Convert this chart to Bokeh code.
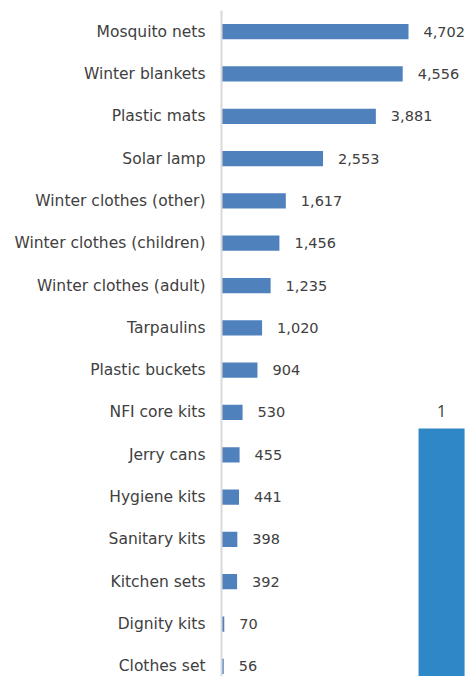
from bokeh.plotting import figure
from bokeh.models import Range1d, FixedTicker, ColumnDataSource
from bokeh.core.properties import value
from bokeh.embed import file_html
from bokeh.resources import INLINE

categories = ["Mosquito nets", "Winter blankets", "Plastic mats", "Solar lamp",
              "Winter clothes (other)", "Winter clothes (children)",
              "Winter clothes (adult)", "Tarpaulins", "Plastic buckets",
              "NFI core kits", "Jerry cans", "Hygiene kits", "Sanitary kits",
              "Kitchen sets", "Dignity kits", "Clothes set"]
values = [4702, 4556, 3881, 2553, 1617, 1456, 1235, 1020, 904, 530, 455, 441,
          398, 392, 70, 56]
labels = [f"{v:,}" for v in values]

second_categories = ["Other"]
second_values = [1]

FONT = "DejaVu Sans"
TXT = "#404040"

pos = list(range(len(categories)))
src = ColumnDataSource(dict(y=pos, v=values, lab=labels, cat=categories))

p = figure(width=465, height=676, output_backend="svg", toolbar_location=None,
           x_range=Range1d(0, 6135), y_range=Range1d(15.24, -0.5),
           min_border_left=221, min_border_right=0, min_border_top=10,
           min_border_bottom=0, x_axis_location=None)
p.outline_line_color = None
p.xgrid.visible = False
p.ygrid.visible = False
p.background_fill_color = "white"

p.hbar(y="y", right="v", left=0, height=0.36, source=src,
       fill_color="#4F81BD", line_color=None)
p.text(x="v", y="y", text="lab", source=src, x_offset=15,
       text_baseline="middle", text_align="left",
       text_font=value(FONT), text_font_size="14.5px", text_color=TXT)

ya = p.yaxis[0]
ya.ticker = FixedTicker(ticks=pos)
ya.major_label_overrides = {i: c for i, c in enumerate(categories)}
ya.major_tick_line_color = None
ya.minor_tick_line_color = None
ya.axis_line_color = "#D9D9D9"
ya.axis_line_width = 2
ya.major_label_standoff = 10
ya.major_label_text_font = FONT
ya.major_label_text_font_size = "15.5px"
ya.major_label_text_color = TXT

# second (partially visible) chart on the right
p.extra_x_ranges = {"x2": Range1d(-4.78, 0.52)}
p.extra_y_ranges = {"y2": Range1d(0, 2.685)}
src2 = ColumnDataSource(dict(x=[0], v=second_values,
                             lab=[str(v) for v in second_values]))
p.vbar(x="x", top="v", bottom=0, width=1.0, source=src2,
       x_range_name="x2", y_range_name="y2",
       fill_color="#2E88C8", line_color=None)
p.text(x="x", y="v", text="lab", source=src2, x_range_name="x2",
       y_range_name="y2", y_offset=-11, text_align="center",
       text_baseline="bottom", text_font=value("Open Sans"),
       text_font_size="16px", text_color=TXT)

open("out.html", "w").write(file_html(p, INLINE))
